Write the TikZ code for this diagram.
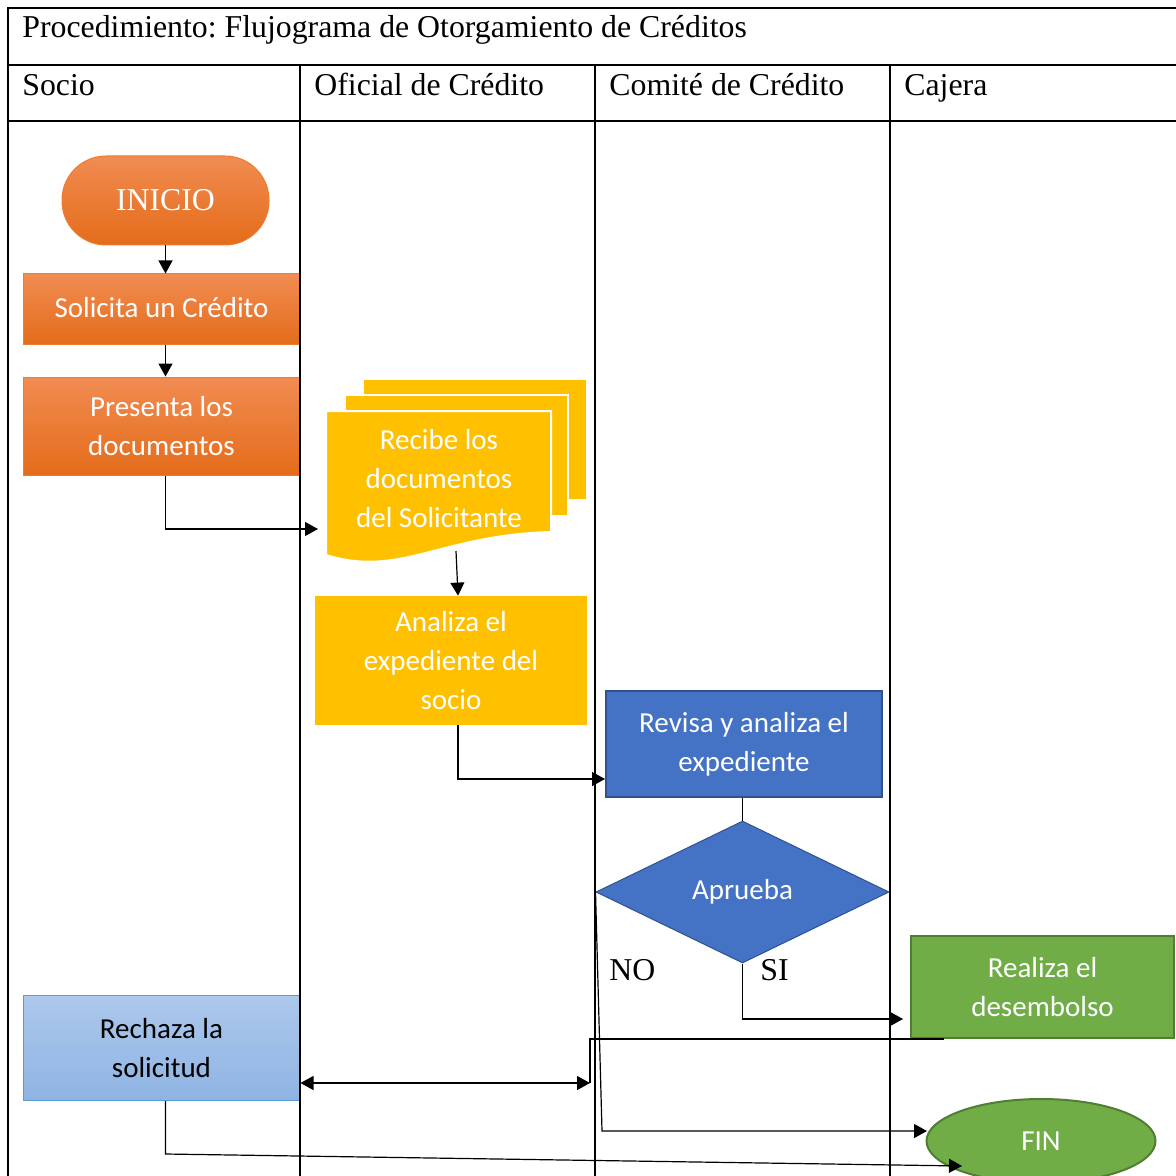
\documentclass[tikz,border=0pt]{standalone}
\usepackage{fontspec}
\setmainfont{Liberation Serif}
\newfontfamily\boxfont{Carlito}
\usetikzlibrary{shapes.geometric,arrows.meta,calc}
\frenchspacing
\definecolor{naranjaA}{RGB}{241,140,82}
\definecolor{naranjaB}{RGB}{228,108,26}
\definecolor{naranjaL}{RGB}{237,125,49}
\definecolor{amarillo}{RGB}{255,192,0}
\definecolor{azul}{RGB}{68,114,196}
\definecolor{azulL}{RGB}{47,82,143}
\definecolor{celesteA}{RGB}{172,200,235}
\definecolor{celesteB}{RGB}{143,180,227}
\definecolor{celesteL}{RGB}{91,155,213}
\definecolor{verde}{RGB}{112,173,71}
\definecolor{verdeL}{RGB}{80,126,50}
\tikzset{
        serif/.style={inner sep=0pt,font=\fontsize{15.9}{18}\selectfont},
        caja/.style={rectangle,inner sep=0pt,align=center,text=white,font=\boxfont\fontsize{14.5}{19.5}\selectfont},
        naranja/.style={caja,top color=naranjaA,bottom color=naranjaB,draw=naranjaL,line width=0.5pt,minimum width=138.5pt},
        tabla/.style={line width=1pt},
        flecha/.style={-{Triangle[length=6.5pt,width=7pt]},line width=0.6pt},
        doble/.style={{Triangle[length=6.5pt,width=7pt]}-{Triangle[length=6.5pt,width=7pt]},line width=0.6pt},
        hoja/.style={fill=amarillo,draw=white,line width=1pt}
}
\begin{document}
\begin{tikzpicture}[x=0.5pt,y=-0.5pt]
        \clip(0,0)rectangle(1176,1176);
        \fill[white](0,0)rectangle(1176,1176);
        \node[naranja,serif,text=white,rounded corners=22pt,minimum width=103.5pt,minimum height=44.5pt](inicio)at(165.5,200.5){INICIO};
        \node[naranja,minimum height=35pt,text depth=2pt](solicita)at(161.5,309){Solicita un Crédito};
        \node[naranja,minimum height=49pt](presenta)at(161.5,426){Presenta los\\documentos};
        \fill[hoja](363,379)rectangle(587,500);
        \fill[hoja](345,395)rectangle(568,516);
        \fill[hoja](326,411)--(551,411)--(551,532)..controls(440,535)and(400,578)..(326,555)--cycle;
        \node[caja](recibe)at(439,479){Recibe los\\documentos\\del Solicitante};
        \node[caja,fill=amarillo,minimum width=136pt,minimum height=64.5pt](analiza)at(451,660.5){Analiza el\\expediente del\\socio};
        \node[caja,fill=azul,draw=azulL,line width=1pt,minimum width=138pt,minimum height=53pt](revisa)at(744,744){Revisa y analiza el\\expediente};
        \node[caja,diamond,aspect=2,fill=azul,draw=azulL,line width=0.5pt,minimum width=146.5pt,minimum height=71pt](aprueba)at(742.5,892){Aprueba};
        \node[caja,fill=verde,draw=verdeL,line width=1pt,minimum width=131.5pt,minimum height=51pt](realiza)at(1042.5,987){Realiza el\\desembolso};
        \node[caja,text=black,top color=celesteA,bottom color=celesteB,draw=celesteL,line width=0.5pt,minimum width=138.5pt,minimum height=52.5pt](rechaza)at(161.5,1048){Rechaza la\\solicitud};
        \node[caja,ellipse,fill=verde,draw=verdeL,line width=1pt,minimum width=114.5pt,minimum height=42pt](fin)at(1041,1141){FIN};
        \draw[tabla](8,1176)--(8,8)--(1176,8);
        \draw[tabla](8,65)--(1176,65);
        \draw[tabla](8,121)--(1176,121);
        \foreach \x in {300,595,890}
                \draw[tabla](\x,65)--(\x,1176);
        \node[serif,anchor=base west](titulo)at(22,38){Procedimiento: Flujograma de Otorgamiento de Créditos};
        \node[serif,anchor=base west](socio)at(22,96){Socio};
        \node[serif,anchor=base west](oficial)at(314,96){Oficial de Crédito};
        \node[serif,anchor=base west](comite)at(609,96){Comité de Crédito};
        \node[serif,anchor=base west](cajera)at(904,96){Cajera};
        \node[serif,anchor=base west](no)at(609,980){NO};
        \node[serif,anchor=base west](si)at(760,980){SI};
        \coordinate(docin)at(318,529);
        \coordinate(docout)at(456,551);
        \coordinate(siend)at(903,1019);
        \coordinate(noA)at(602,1131);
        \coordinate(noB)at(927,1131);
        \coordinate(giro)at(590,1039);
        \coordinate(retorno)at(590,1083);
        \coordinate(finin)at(962,1166);
        \draw[flecha](inicio.south)--(inicio.south|-solicita.north);
        \draw[flecha](inicio.south|-solicita.south)--(inicio.south|-presenta.north);
        \draw[flecha](inicio.south|-presenta.south)|-(docin);
        \draw[flecha](docout)--([xshift=3.5pt]analiza.north);
        \draw[flecha]([xshift=3.5pt]analiza.south)|-([yshift=-17.5pt]revisa.west);
        \draw[line width=0.6pt](aprueba.north|-revisa.south)--(aprueba.north);
        \draw[flecha](aprueba.south)|-(siend);
        \draw[flecha](aprueba.west)--(noA)--(noB);
        \draw[line width=0.6pt]([xshift=17pt]realiza.south west)--(giro)--(retorno);
        \draw[doble](rechaza.east|-retorno)--(retorno);
        \draw[flecha](inicio.south|-rechaza.south)--++(0,53)--(finin);
\end{tikzpicture}
\end{document}
